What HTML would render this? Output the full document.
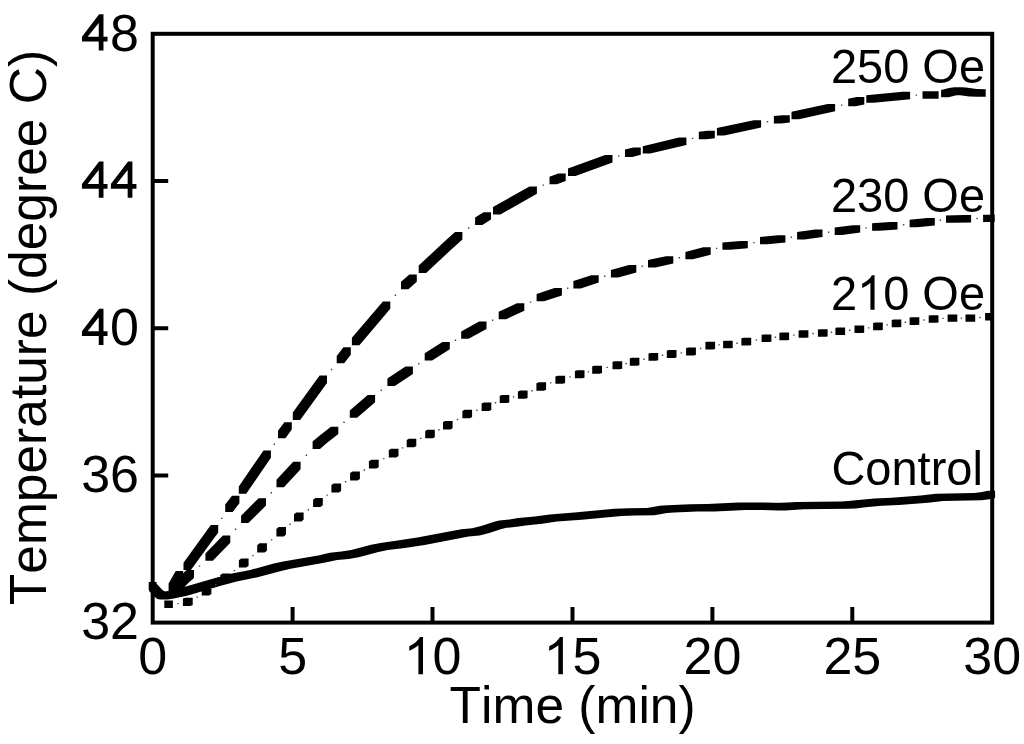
<!DOCTYPE html>
<html><head><meta charset="utf-8"><style>
html,body{margin:0;padding:0;background:#fff;width:1024px;height:744px;overflow:hidden}
svg{display:block;will-change:transform}
text{font-family:"Liberation Sans",sans-serif;fill:#000;font-kerning:none;font-feature-settings:"kern" 0}
</style></head><body>
<svg width="1024" height="744" viewBox="0 0 1024 744">
<rect width="1024" height="744" fill="#fff"/>
<rect x="152.7" y="33.8" width="839.5" height="588.8" fill="none" stroke="#000" stroke-width="4"/>
<path d="M292.6 622.6V607.1M432.5 622.6V607.1M572.5 622.6V607.1M712.4 622.6V607.1M852.3 622.6V607.1M152.7 475.4H168.2M152.7 328.2H168.2M152.7 181.0H168.2" stroke="#000" stroke-width="4" fill="none"/>
<g font-size="52"><text x="152.7" y="674.3" text-anchor="middle">0</text><text x="292.6" y="674.3" text-anchor="middle">5</text><text x="432.5" y="674.3" text-anchor="middle"> 0</text><text x="572.5" y="674.3" text-anchor="middle"> 5</text><text x="712.4" y="674.3" text-anchor="middle">20</text><text x="852.3" y="674.3" text-anchor="middle">25</text><text x="992.2" y="674.3" text-anchor="middle">30</text><text x="139" y="639.4" text-anchor="end">32</text><text x="139" y="492.2" text-anchor="end">36</text><text x="139" y="345.0" text-anchor="end"> 0</text><text x="139" y="197.8" text-anchor="end">  </text><text x="139" y="50.6" text-anchor="end"> 8</text></g>
<text x="449.6" y="723.3" font-size="51.5">Time (min)</text>
<text transform="translate(46.3 605.2) rotate(-90)" font-size="51.5">Temperature (degree C)</text>
<g font-size="47"><text transform="translate(830.9 82.8) scale(1 1.025)">250 Oe</text><text transform="translate(830.9 211.8) scale(1 1.025)">230 Oe</text><text transform="translate(830.9 309.8) scale(1 1.025)">2 0 Oe</text><text transform="translate(831.4 485.2) scale(1 1.01)">Control</text></g>
<g fill="#000"><path transform="translate(403.61 674.30) scale(0.02539 -0.02539)" d="M763 0H583V1147Q518 1085 412.5 1023Q307 961 223 930V1104Q374 1175 487 1276Q600 1377 647 1472H763Z"/><path transform="translate(543.53 674.30) scale(0.02539 -0.02539)" d="M763 0H583V1147Q518 1085 412.5 1023Q307 961 223 930V1104Q374 1175 487 1276Q600 1377 647 1472H763Z"/><path transform="translate(81.16 345.00) scale(0.02539 -0.02539)" d="M879 0V358H1038V543H879V1430H707L32 543V358H693V0ZM693 543H256L693 1090Z"/><path transform="translate(81.16 197.80) scale(0.02539 -0.02539)" d="M879 0V358H1038V543H879V1430H707L32 543V358H693V0ZM693 543H256L693 1090Z"/><path transform="translate(110.08 197.80) scale(0.02539 -0.02539)" d="M879 0V358H1038V543H879V1430H707L32 543V358H693V0ZM693 543H256L693 1090Z"/><path transform="translate(81.16 50.60) scale(0.02539 -0.02539)" d="M879 0V358H1038V543H879V1430H707L32 543V358H693V0ZM693 543H256L693 1090Z"/><path transform="translate(857.04 309.80) scale(0.02295 -0.02352)" d="M763 0H583V1147Q518 1085 412.5 1023Q307 961 223 930V1104Q374 1175 487 1276Q600 1377 647 1472H763Z"/></g>
<path d="M164.3 600.6L165.5 600.5L172.9 600.5L172.9 607.9L171.7 608.0L164.3 608.0ZM182.9 598.5L185.3 597.7L192.7 597.7L192.7 605.1L190.3 605.9L182.9 605.9ZM201.7 588.0L204.0 586.6L211.4 586.6L211.4 594.0L209.1 595.5L201.7 595.5ZM220.2 575.1L222.5 573.4L229.9 573.4L229.9 580.8L227.6 582.5L220.2 582.5ZM238.9 560.2L241.2 558.4L248.6 558.4L248.6 565.8L246.3 567.6L238.9 567.6ZM257.2 545.2L259.5 543.3L266.9 543.3L266.9 550.7L264.6 552.6L257.2 552.6ZM276.4 529.0L278.6 527.1L286.0 527.1L286.0 534.5L283.8 536.5L276.4 536.5ZM294.0 514.2L296.2 512.4L303.6 512.4L303.6 519.8L301.4 521.6L294.0 521.6ZM313.1 499.7L315.4 497.9L322.8 497.9L322.8 505.3L320.5 507.1L313.1 507.1ZM331.4 485.1L333.7 483.5L341.1 483.5L341.1 490.9L338.8 492.5L331.4 492.5ZM350.1 473.0L352.5 471.6L359.9 471.6L359.9 479.0L357.5 480.4L350.1 480.4ZM368.9 461.2L371.3 459.8L378.7 459.8L378.7 467.2L376.3 468.6L368.9 468.6ZM388.8 450.0L391.1 448.7L398.5 448.7L398.5 456.1L396.2 457.4L388.8 457.4ZM406.7 439.9L408.9 438.7L416.3 438.7L416.3 446.1L414.1 447.3L406.7 447.3ZM425.2 430.9L427.4 429.8L434.8 429.8L434.8 437.2L432.6 438.3L425.2 438.3ZM443.0 422.1L445.2 420.9L452.6 420.9L452.6 428.3L450.4 429.5L443.0 429.5ZM462.4 410.9L464.7 409.8L472.1 409.8L472.1 417.1L469.8 418.3L462.4 418.3ZM481.6 403.5L483.9 402.6L491.3 402.6L491.3 410.0L489.0 410.9L481.6 410.9ZM499.7 395.7L501.9 394.9L509.3 394.9L509.3 402.4L507.1 403.1L499.7 403.1ZM517.9 391.4L520.2 390.6L527.6 390.6L527.6 398.0L525.3 398.8L517.9 398.8ZM536.4 383.3L538.7 382.3L546.1 382.3L546.1 389.7L543.8 390.7L536.4 390.7ZM555.4 376.4L557.8 375.7L565.1 375.7L565.1 383.1L562.8 383.8L555.4 383.8ZM574.9 370.9L577.1 370.3L584.5 370.3L584.5 377.7L582.2 378.3L574.9 378.3ZM592.2 366.3L594.6 365.8L602.0 365.8L602.0 373.1L599.6 373.7L592.2 373.7ZM612.5 361.8L614.9 361.3L622.2 361.3L622.2 368.7L619.9 369.2L612.5 369.2ZM629.8 358.3L632.0 357.8L639.4 357.8L639.4 365.2L637.1 365.7L629.8 365.7ZM648.5 353.4L650.8 352.9L658.2 352.9L658.2 360.3L655.9 360.8L648.5 360.8ZM666.8 350.5L669.1 350.1L676.5 350.1L676.5 357.5L674.2 357.9L666.8 357.9ZM686.1 348.0L688.5 347.5L695.9 347.5L695.9 354.9L693.5 355.4L686.1 355.4ZM705.4 342.1L707.7 341.7L715.1 341.7L715.1 349.1L712.8 349.6L705.4 349.6ZM723.1 340.9L725.3 340.7L732.7 340.7L732.7 348.1L730.5 348.3L723.1 348.3ZM741.4 338.2L743.8 337.8L751.2 337.8L751.2 345.2L748.8 345.6L741.4 345.6ZM761.6 334.7L764.0 334.4L771.4 334.4L771.4 341.8L769.0 342.1L761.6 342.1ZM779.4 332.8L781.7 332.6L789.1 332.6L789.1 340.0L786.8 340.2L779.4 340.2ZM798.6 330.4L801.0 330.2L808.4 330.2L808.4 337.6L806.0 337.8L798.6 337.8ZM817.9 329.4L820.2 329.2L827.6 329.2L827.6 336.6L825.3 336.8L817.9 336.8ZM835.4 327.7L837.7 327.5L845.1 327.5L845.1 334.9L842.8 335.1L835.4 335.1ZM854.5 325.6L856.9 325.4L864.2 325.4L864.2 332.8L861.9 333.1L854.5 333.1ZM873.1 322.9L875.4 322.5L882.8 322.5L882.8 329.9L880.5 330.3L873.1 330.3ZM891.7 319.9L893.9 319.5L901.3 319.5L901.3 326.9L899.1 327.3L891.7 327.3ZM909.6 317.5L911.9 317.3L919.3 317.3L919.3 324.7L917.0 324.9L909.6 324.9ZM928.7 315.4L931.1 315.2L938.5 315.2L938.5 322.6L936.1 322.8L928.7 322.8ZM947.6 314.4L949.9 314.4L957.3 314.4L957.3 321.8L955.0 321.8L947.6 321.8ZM965.5 314.4L967.8 314.4L975.2 314.4L975.2 321.8L972.9 321.8L965.5 321.8ZM985.1 313.1L986.3 313.0L993.7 313.0L993.7 320.4L992.5 320.5L985.1 320.5ZM172.3 584.3L181.7 574.9L189.1 574.9L189.1 582.3L179.7 591.7L172.3 591.7ZM181.7 574.9L186.1 571.1L193.5 571.1L193.5 578.5L189.1 582.3L181.7 582.3ZM205.4 553.4L222.9 535.4L230.3 535.4L230.3 542.8L212.8 560.8L205.4 560.8ZM241.1 515.7L258.6 498.2L266.0 498.2L266.0 505.6L248.4 523.1L241.1 523.1ZM276.5 479.8L293.2 461.8L300.6 461.8L300.6 469.2L283.9 487.2L276.5 487.2ZM312.6 441.5L318.5 436.4L325.9 436.4L325.9 443.8L320.0 448.9L312.6 448.9ZM318.5 436.4L330.9 426.7L338.3 426.7L338.3 434.1L325.9 443.8L318.5 443.8ZM349.8 410.4L367.7 394.9L375.1 394.9L375.1 402.3L357.1 417.8L349.8 417.8ZM387.4 378.6L405.5 366.6L412.9 366.6L412.9 374.0L394.8 386.0L387.4 386.0ZM424.7 353.2L442.4 341.9L449.8 341.9L449.8 349.3L432.1 360.6L424.7 360.6ZM461.2 331.4L479.1 321.6L486.5 321.6L486.5 328.9L468.6 338.8L461.2 338.8ZM498.7 311.8L516.9 303.3L524.3 303.3L524.3 310.7L506.1 319.2L498.7 319.2ZM536.6 293.9L554.5 288.1L561.9 288.1L561.9 295.5L544.0 301.3L536.6 301.3ZM573.4 281.1L591.3 275.2L598.7 275.2L598.7 282.6L580.8 288.5L573.4 288.5ZM610.9 270.0L628.9 265.1L636.3 265.1L636.3 272.5L618.3 277.4L610.9 277.4ZM648.0 260.1L665.9 256.2L673.3 256.2L673.3 263.6L655.4 267.5L648.0 267.5ZM685.4 251.9L703.3 247.3L710.7 247.3L710.7 254.7L692.8 259.3L685.4 259.3ZM722.4 242.4L740.4 240.9L747.8 240.9L747.8 248.3L729.8 249.8L722.4 249.8ZM760.0 236.9L778.0 235.2L785.4 235.2L785.4 242.6L767.4 244.3L760.0 244.3ZM797.1 232.0L815.1 229.6L822.5 229.6L822.5 237.0L804.5 239.4L797.1 239.4ZM834.7 227.5L852.8 225.2L860.2 225.2L860.2 232.6L842.1 234.9L834.7 234.9ZM872.1 223.3L890.1 222.0L897.5 222.0L897.5 229.4L879.5 230.8L872.1 230.8ZM909.6 219.8L927.4 218.0L934.8 218.0L934.8 225.4L917.0 227.2L909.6 227.2ZM946.0 215.4L963.7 215.0L971.1 215.0L971.1 222.4L953.4 222.8L946.0 222.8ZM983.1 214.7L990.5 214.7L994.7 214.7L994.7 222.1L987.3 222.1L983.1 222.1ZM170.1 581.2L175.5 572.5L182.9 572.5L182.9 579.9L177.5 588.6L170.1 588.6ZM183.5 562.7L210.8 525.0L218.2 525.0L218.2 532.4L190.9 570.1L183.5 570.1ZM225.2 504.4L232.0 495.8L239.4 495.8L239.4 503.2L232.7 511.9L225.2 511.9ZM238.8 486.4L263.5 450.4L270.9 450.4L270.9 457.8L246.2 493.8L238.8 493.8ZM278.0 430.8L284.4 422.2L291.8 422.2L291.8 429.6L285.4 438.2L278.0 438.2ZM292.8 412.5L319.6 375.6L327.0 375.6L327.0 383.0L300.2 419.9L292.8 419.9ZM336.7 355.9L343.4 347.3L350.8 347.3L350.8 354.7L344.1 363.3L336.7 363.3ZM351.9 337.8L382.9 301.4L390.3 301.4L390.3 308.8L359.4 345.2L351.9 345.2ZM401.0 281.8L409.4 274.4L416.8 274.4L416.8 281.8L408.4 289.2L401.0 289.2ZM418.7 265.6L443.1 242.8L450.5 242.8L450.5 250.2L426.1 273.0L418.7 273.0ZM443.1 242.8L455.0 232.1L462.4 232.1L462.4 239.5L450.5 250.2L443.1 250.2ZM475.1 217.5L483.6 212.2L491.0 212.2L491.0 219.6L482.4 224.9L475.1 224.9ZM493.0 207.1L529.5 186.4L536.9 186.4L536.9 193.8L500.4 214.5L493.0 214.5ZM549.5 176.8L558.3 173.5L565.7 173.5L565.7 180.9L556.9 184.2L549.5 184.2ZM568.0 168.6L605.1 155.1L612.5 155.1L612.5 162.5L575.5 176.0L568.0 176.0ZM625.0 149.6L633.4 147.4L640.8 147.4L640.8 154.8L632.4 157.0L625.0 157.0ZM642.8 146.2L679.0 137.6L686.4 137.6L686.4 145.0L650.2 153.6L642.8 153.6ZM698.8 131.8L707.4 130.8L714.8 130.8L714.8 138.2L706.2 139.2L698.8 139.2ZM716.9 128.0L753.7 120.2L761.1 120.2L761.1 127.6L724.3 135.4L716.9 135.4ZM773.9 116.1L782.4 115.2L789.8 115.2L789.8 122.6L781.3 123.5L773.9 123.5ZM791.5 111.8L827.7 103.9L835.1 103.9L835.1 111.3L798.9 119.2L791.5 119.2ZM848.2 98.8L856.9 97.1L864.3 97.1L864.3 104.5L855.6 106.2L848.2 106.2ZM866.3 95.3L902.7 91.8L910.1 91.8L910.1 99.2L873.7 102.7L866.3 102.7ZM922.5 91.3L938.6 91.3L938.6 98.7L922.5 98.7ZM941.1 89.9L949.0 87.9L956.4 87.9L956.4 95.3L948.5 97.3L941.1 97.3ZM949.0 87.9L954.3 87.3L961.7 87.3L961.7 94.7L956.4 95.3L949.0 95.3ZM954.3 87.3L961.7 87.3L965.8 87.5L965.8 94.9L958.4 94.9L954.3 94.7ZM958.4 87.5L965.8 87.5L976.7 89.0L976.7 96.4L969.3 96.4L958.4 94.9ZM969.3 89.0L976.7 89.0L985.7 89.3L985.7 96.7L978.3 96.7L969.3 96.4ZM148.7 582.5L149.2 582.1L156.6 582.1L156.6 589.5L156.0 589.8L148.7 589.8ZM148.7 582.5L156.0 582.5L156.6 583.8L156.6 591.0L149.2 591.0L148.7 589.8ZM149.2 583.8L156.6 583.8L158.2 585.6L158.2 592.9L150.9 592.9L149.2 591.0ZM150.9 585.6L158.2 585.6L162.2 589.8L162.2 597.1L154.9 597.1L150.9 592.9ZM154.9 589.8L162.2 589.8L164.7 591.5L164.7 598.9L157.3 598.9L154.9 597.1ZM157.3 591.5L164.7 591.5L167.6 592.2L167.6 599.5L160.2 599.5L157.3 598.9ZM160.2 592.2L166.6 591.3L173.9 591.3L173.9 598.6L167.6 599.5L160.2 599.5ZM166.6 591.3L180.7 588.1L188.0 588.1L188.0 595.4L173.9 598.6L166.6 598.6ZM180.7 588.1L212.6 578.7L219.9 578.7L219.9 586.0L188.0 595.4L180.7 595.4ZM212.6 578.7L229.4 574.1L236.7 574.1L236.7 581.5L219.9 586.0L212.6 586.0ZM229.4 574.1L250.2 569.9L257.5 569.9L257.5 577.2L236.7 581.5L229.4 581.5ZM250.2 569.9L273.8 563.6L281.1 563.6L281.1 570.9L257.5 577.2L250.2 577.2ZM273.8 563.6L283.2 561.5L290.6 561.5L290.6 568.8L281.1 570.9L273.8 570.9ZM283.2 561.5L318.1 555.4L325.4 555.4L325.4 562.6L290.6 568.8L283.2 568.8ZM318.1 555.4L329.8 552.8L337.1 552.8L337.1 560.0L325.4 562.6L318.1 562.6ZM329.8 552.8L341.4 551.5L348.8 551.5L348.8 558.9L337.1 560.0L329.8 560.0ZM341.4 551.5L351.3 550.0L358.6 550.0L358.6 557.3L348.8 558.9L341.4 558.9ZM351.3 550.0L371.1 544.8L378.4 544.8L378.4 552.1L358.6 557.3L351.3 557.3ZM371.1 544.8L380.5 542.9L387.8 542.9L387.8 550.1L378.4 552.1L371.1 552.1ZM380.5 542.9L397.5 540.6L404.8 540.6L404.8 548.0L387.8 550.1L380.5 550.1ZM397.5 540.6L417.3 537.5L424.6 537.5L424.6 544.9L404.8 548.0L397.5 548.0ZM417.3 537.5L461.3 529.3L468.6 529.3L468.6 536.6L424.6 544.9L417.3 544.9ZM461.3 529.3L472.2 528.2L479.5 528.2L479.5 535.5L468.6 536.6L461.3 536.6ZM472.2 528.2L482.0 525.8L489.3 525.8L489.3 533.1L479.5 535.5L472.2 535.5ZM482.0 525.8L494.2 521.8L501.5 521.8L501.5 529.0L489.3 533.1L482.0 533.1ZM494.2 521.8L499.3 520.5L506.6 520.5L506.6 527.8L501.5 529.0L494.2 529.0ZM499.3 520.5L509.4 519.5L516.8 519.5L516.8 526.8L506.6 527.8L499.3 527.8ZM509.4 519.5L518.2 518.0L525.5 518.0L525.5 525.4L516.8 526.8L509.4 526.8ZM518.2 518.0L534.8 516.5L542.1 516.5L542.1 523.8L525.5 525.4L518.2 525.4ZM534.8 516.5L549.8 514.4L557.0 514.4L557.0 521.6L542.1 523.8L534.8 523.8ZM549.8 514.4L574.4 512.5L581.7 512.5L581.7 519.8L557.0 521.6L549.8 521.6ZM574.4 512.5L614.3 508.8L621.6 508.8L621.6 516.1L581.7 519.8L574.4 519.8ZM614.3 508.8L628.2 508.2L635.5 508.2L635.5 515.5L621.6 516.1L614.3 516.1ZM628.2 508.2L647.0 508.0L654.3 508.0L654.3 515.3L635.5 515.5L628.2 515.5ZM647.0 508.0L659.8 505.8L667.0 505.8L667.0 513.1L654.3 515.3L647.0 515.3ZM659.8 505.8L667.2 505.2L674.5 505.2L674.5 512.5L667.0 513.1L659.8 513.1ZM667.2 505.2L690.2 504.2L697.5 504.2L697.5 511.5L674.5 512.5L667.2 512.5ZM690.2 504.2L707.3 504.1L714.6 504.1L714.6 511.4L697.5 511.5L690.2 511.5ZM707.3 504.1L738.2 502.6L745.5 502.6L745.5 509.9L714.6 511.4L707.3 511.4ZM738.2 502.6L756.9 502.5L764.2 502.5L764.2 509.8L745.5 509.9L738.2 509.9ZM756.9 502.5L764.2 502.5L785.5 503.1L785.5 510.4L778.2 510.4L756.9 509.8ZM778.2 503.1L796.4 501.9L803.7 501.9L803.7 509.2L785.5 510.4L778.2 510.4ZM796.4 501.9L840.9 501.5L848.2 501.5L848.2 508.8L803.7 509.2L796.4 509.2ZM840.9 501.5L848.2 501.1L855.5 501.1L855.5 508.4L848.2 508.8L840.9 508.8ZM848.2 501.1L858.3 499.9L865.6 499.9L865.6 507.2L855.5 508.4L848.2 508.4ZM858.3 499.9L874.4 498.5L881.7 498.5L881.7 505.8L865.6 507.2L858.3 507.2ZM874.4 498.5L891.5 497.8L898.8 497.8L898.8 505.1L881.7 505.8L874.4 505.8ZM891.5 497.8L920.9 495.5L928.2 495.5L928.2 502.8L898.8 505.1L891.5 505.1ZM920.9 495.5L935.8 493.7L943.1 493.7L943.1 501.0L928.2 502.8L920.9 502.8ZM935.8 493.7L974.3 493.0L981.6 493.0L981.6 500.3L943.1 501.0L935.8 501.0ZM974.3 493.0L982.0 491.9L989.3 491.9L989.3 499.2L981.6 500.3L974.3 500.3ZM982.0 491.9L987.9 490.8L995.1 490.8L995.1 498.1L989.3 499.2L982.0 499.2ZM168.6 583.4L175.7 571.1L183.1 571.1L183.1 578.5L176.0 590.8L168.6 590.8ZM171.3 583.8L186.6 570.1L194.0 570.1L194.0 577.5L178.7 591.2L171.3 591.2Z" fill="#000"/>
<path d="M177.2 602.9h1.4v1.4h-1.4zM196.5 596.4h1.4v1.4h-1.4zM215.1 584.1h1.4v1.4h-1.4zM233.7 569.9h1.4v1.4h-1.4zM252.2 554.9h1.4v1.4h-1.4zM270.9 539.2h1.4v1.4h-1.4zM289.3 523.6h1.4v1.4h-1.4zM307.7 509.0h1.4v1.4h-1.4zM326.4 494.4h1.4v1.4h-1.4zM344.9 481.1h1.4v1.4h-1.4zM363.7 469.3h1.4v1.4h-1.4zM383.1 457.9h1.4v1.4h-1.4zM401.9 447.2h1.4v1.4h-1.4zM420.1 437.7h1.4v1.4h-1.4zM438.2 429.0h1.4v1.4h-1.4zM456.8 418.8h1.4v1.4h-1.4zM476.2 409.5h1.4v1.4h-1.4zM494.8 402.0h1.4v1.4h-1.4zM512.9 396.2h1.4v1.4h-1.4zM531.3 390.1h1.4v1.4h-1.4zM550.0 382.2h1.4v1.4h-1.4zM569.3 376.2h1.4v1.4h-1.4zM587.7 371.2h1.4v1.4h-1.4zM606.5 366.7h1.4v1.4h-1.4zM625.3 362.8h1.4v1.4h-1.4zM643.2 358.5h1.4v1.4h-1.4zM661.8 354.5h1.4v1.4h-1.4zM680.6 352.2h1.4v1.4h-1.4zM699.9 347.8h1.4v1.4h-1.4zM718.4 344.2h1.4v1.4h-1.4zM736.3 342.5h1.4v1.4h-1.4zM755.7 339.2h1.4v1.4h-1.4zM774.7 336.5h1.4v1.4h-1.4zM793.1 334.4h1.4v1.4h-1.4zM812.4 332.8h1.4v1.4h-1.4zM830.8 331.5h1.4v1.4h-1.4zM849.1 329.6h1.4v1.4h-1.4zM868.0 327.2h1.4v1.4h-1.4zM886.5 324.2h1.4v1.4h-1.4zM904.7 321.5h1.4v1.4h-1.4zM923.3 319.3h1.4v1.4h-1.4zM942.3 317.7h1.4v1.4h-1.4zM960.7 317.4h1.4v1.4h-1.4zM979.4 316.8h1.4v1.4h-1.4zM198.8 565.4h1.4v1.4h-1.4zM234.9 528.5h1.4v1.4h-1.4zM270.6 492.0h1.4v1.4h-1.4zM305.7 454.6h1.4v1.4h-1.4zM343.3 421.6h1.4v1.4h-1.4zM380.6 389.5h1.4v1.4h-1.4zM418.1 363.0h1.4v1.4h-1.4zM454.8 339.6h1.4v1.4h-1.4zM491.9 319.6h1.4v1.4h-1.4zM529.8 301.4h1.4v1.4h-1.4zM567.0 287.6h1.4v1.4h-1.4zM604.1 275.5h1.4v1.4h-1.4zM641.5 265.6h1.4v1.4h-1.4zM678.6 257.1h1.4v1.4h-1.4zM715.9 247.7h1.4v1.4h-1.4zM753.2 241.9h1.4v1.4h-1.4zM790.5 236.6h1.4v1.4h-1.4zM827.9 231.5h1.4v1.4h-1.4zM865.4 227.2h1.4v1.4h-1.4zM902.9 224.0h1.4v1.4h-1.4zM939.7 219.6h1.4v1.4h-1.4zM976.4 217.8h1.4v1.4h-1.4zM221.0 517.7h1.4v1.4h-1.4zM273.6 443.6h1.4v1.4h-1.4zM330.8 368.8h1.4v1.4h-1.4zM394.7 294.6h1.4v1.4h-1.4zM468.0 227.3h1.4v1.4h-1.4zM542.5 184.4h1.4v1.4h-1.4zM618.0 155.2h1.4v1.4h-1.4zM691.9 137.7h1.4v1.4h-1.4zM766.8 121.1h1.4v1.4h-1.4zM841.0 104.4h1.4v1.4h-1.4zM915.6 94.4h1.4v1.4h-1.4z" fill="#444"/>
</svg></body></html>
